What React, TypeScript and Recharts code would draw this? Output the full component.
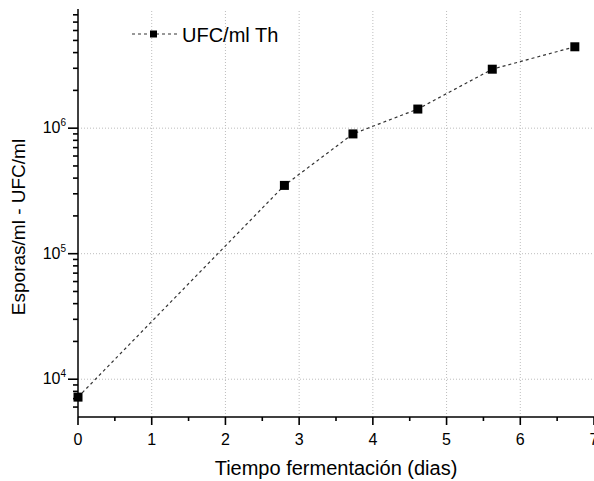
import { LineChart, Line, XAxis, YAxis, ReferenceLine } from 'recharts'

// dias de fermentación y UFC/ml
const dias = [0, 2.8, 3.73, 4.61, 5.62, 6.74]
const ufc = [7200, 350000, 900000, 1420000, 2950000, 4450000]

const xTicks = [0, 0.5, 1, 1.5, 2, 2.5, 3, 3.5, 4, 4.5, 5, 5.5, 6, 6.5, 7]
const xGrid = [1, 2, 3, 4, 5, 6]
const yMajor = [10000, 100000, 1000000]
const yMinor = [
	6000, 7000, 8000, 9000,
	20000, 30000, 40000, 50000, 60000, 70000, 80000, 90000,
	200000, 300000, 400000, 500000, 600000, 700000, 800000, 900000,
	2000000, 3000000, 4000000, 5000000, 6000000, 7000000, 8000000,
]

const data = dias.map((d, i) => ({ dias: d, ufc: ufc[i] }))

const FONT = '"Liberation Sans", Arial, sans-serif'

const XTick = ({ x, y, payload }: any) => {
	const v = payload.value
	const major = Number.isInteger(v)
	return (
		<g>
			<path d={`M${x},${y}V${y + (major ? 8 : 4)}`} stroke="#000" strokeWidth={1.6} fill="none" />
			{major && (
				<text x={x} y={y + 28} textAnchor="middle" fontSize={16} fontFamily={FONT} fill="#000">
					{v}
				</text>
			)}
		</g>
	)
}

const YTick = ({ x, y, payload }: any) => {
	const v = payload.value
	const major = yMajor.includes(v)
	return (
		<g>
			<path d={`M${x - (major ? 10 : 5)},${y}H${x}`} stroke="#000" strokeWidth={1.6} fill="none" />
			{major && (
				<text x={x - 12} y={y + 5} textAnchor="end" fontSize={16} fontFamily={FONT} fill="#000">
					10
					<tspan dy={-7} fontSize={10}>{Math.round(Math.log10(v))}</tspan>
				</text>
			)}
		</g>
	)
}

const Square = (props: any) => {
	const { cx, cy, index } = props
	return <rect key={`sq-${index}`} x={cx - 4.5} y={cy - 4.5} width={9} height={9} fill="#000" />
}

const YTitle = () => (
	<text
		x={25}
		y={227}
		transform="rotate(-90 25 227)"
		textAnchor="middle"
		fontSize={19}
		fontFamily={FONT}
		fill="#000"
	>
		Esporas/ml - UFC/ml
	</text>
)

export default function App() {
	return (
		<div style={{ position: 'absolute', left: 0, top: 0, width: 594, height: 481, overflow: 'hidden', background: '#fff' }}>
			<LineChart width={620} height={481} data={data} margin={{ top: 9, right: 26, bottom: 0, left: 0 }}>
				<XAxis
					type="number"
					dataKey="dias"
					domain={[0, 7]}
					ticks={xTicks}
					interval={0}
					height={64}
					tickSize={0}
					tickMargin={0}
					tick={<XTick />}
					axisLine={{ stroke: '#000', strokeWidth: 1.5 }}
					label={{ value: 'Tiempo fermentación (dias)', position: 'insideBottom', offset: 6, fontSize: 20, fontFamily: FONT, fill: '#000' }}
				/>
				<YAxis
					type="number"
					dataKey="ufc"
					scale="log"
					domain={[5000, 8900000]}
					allowDataOverflow
					ticks={[...yMajor, ...yMinor]}
					interval={0}
					width={78}
					tickSize={0}
					tickMargin={0}
					tick={<YTick />}
					axisLine={{ stroke: '#000', strokeWidth: 1.5 }}
					label={<YTitle />}
				/>
				{xGrid.map((g) => (
					<ReferenceLine key={`vx-${g}`} x={g} stroke="#bdbdbd" strokeDasharray="1 2" />
				))}
				{yMajor.map((g) => (
					<ReferenceLine key={`hy-${g}`} y={g} stroke="#bdbdbd" strokeDasharray="1 2" />
				))}
				<Line
					type="linear"
					dataKey="ufc"
					stroke="#333"
					strokeWidth={1.2}
					strokeDasharray="3 3"
					dot={Square}
					activeDot={false}
					isAnimationActive={false}
				/>
			</LineChart>
			<svg width={220} height={50} style={{ position: 'absolute', left: 120, top: 14 }}>
				<line x1={12} x2={57} y1={20} y2={20} stroke="#333" strokeWidth={1.2} strokeDasharray="3 3" />
				<rect x={30} y={16.5} width={7} height={7} fill="#000" />
				<text x={62} y={28} fontSize={20} fontFamily={FONT} fill="#000">
					UFC/ml Th
				</text>
			</svg>
		</div>
	)
}
